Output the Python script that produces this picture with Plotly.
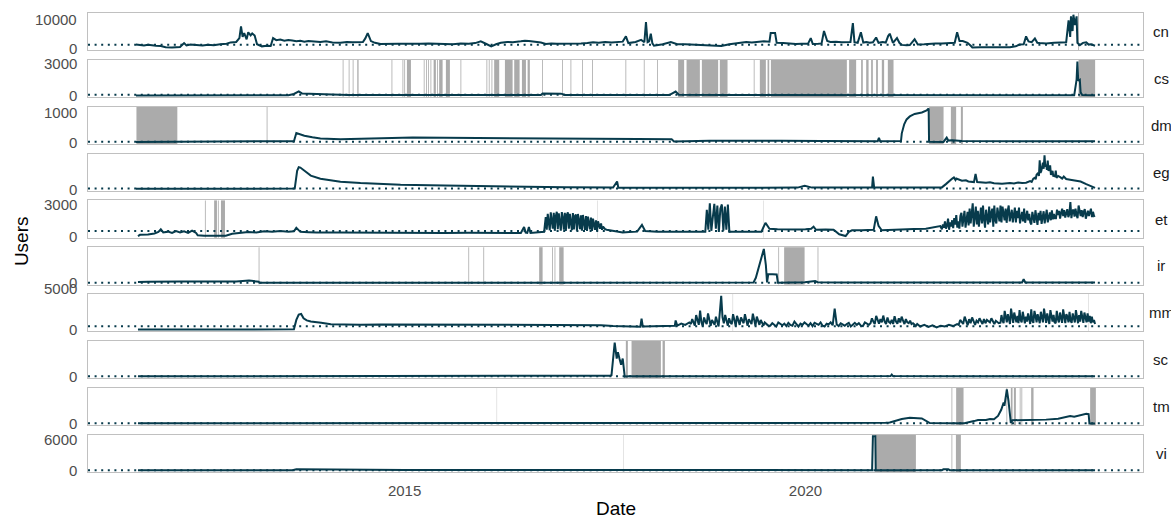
import numpy as np
import pandas as pd
import plotly.graph_objects as go

# ---------------- data (x in decimal years, y = users) ----------------
panels = ["cn", "cs", "dm", "eg", "et", "ir", "mm", "sc", "tm", "vi"]
y_breaks = {"cn": [0, 10000], "cs": [0, 3000], "dm": [0, 1000], "eg": [0], "et": [0, 3000],
            "ir": [0], "mm": [0, 5000], "sc": [0], "tm": [0], "vi": [0, 6000]}
ref_level = {"cn": 1360, "cs": 65, "dm": 20, "eg": 30, "et": 485, "ir": 5,
             "mm": 435, "sc": 10, "tm": 10, "vi": 10}
x_break_dates = ["2015-01-01", "2020-01-01"]
x_break_labels = ["2015", "2020"]

cn_points = [(2011.65,1450),(2011.70,1200),(2011.75,1100),(2011.80,1350),(2011.85,1300),(2011.90,1000),(2011.96,900),(2012.02,500),(2012.10,450),(2012.15,600),(2012.20,550),(2012.25,1900),(2012.28,1100),(2012.33,1400),(2012.40,1250),(2012.48,1100),(2012.55,1350),(2012.62,1200),(2012.70,1500),(2012.78,1700),(2012.83,2150),(2012.90,2300),(2012.94,3600),(2012.96,7600),(2012.98,4000),(2013.00,5300),(2013.03,3200),(2013.05,5600),(2013.08,4500),(2013.10,5200),(2013.13,4500),(2013.16,1500),(2013.22,800),(2013.28,1000),(2013.33,900),(2013.36,3600),(2013.40,2900),(2013.45,3100),(2013.50,2700),(2013.55,2950),(2013.60,2800),(2013.65,2500),(2013.70,2700),(2013.75,2400),(2013.80,2600),(2013.88,2350),(2013.95,2300),(2014.02,2500),(2014.10,2150),(2014.20,2000),(2014.28,2250),(2014.35,2200),(2014.42,2350),(2014.48,2300),(2014.51,3500),(2014.54,5300),(2014.58,2600),(2014.63,2000),(2014.70,1600),(2014.78,1700),(2014.85,1550),(2014.92,1650),(2015.00,1700),(2015.10,1600),(2015.20,1650),(2015.30,1800),(2015.40,1750),(2015.50,1600),(2015.60,1550),(2015.70,1800),(2015.80,1700),(2015.88,1900),(2015.95,2500),(2016.02,1600),(2016.08,800),(2016.14,1500),(2016.20,2000),(2016.28,2300),(2016.35,2200),(2016.45,2500),(2016.50,2700),(2016.55,2600),(2016.62,2400),(2016.70,2100),(2016.76,1600),(2016.83,1800),(2016.90,1700),(2017.00,1650),(2017.10,1600),(2017.20,1750),(2017.28,1900),(2017.35,2200),(2017.42,2000),(2017.50,2300),(2017.58,2100),(2017.65,2250),(2017.72,2400),(2017.76,4200),(2017.79,1900),(2017.88,2300),(2017.95,3000),(2017.99,2200),(2018.01,9070),(2018.03,2200),(2018.05,2500),(2018.07,5100),(2018.09,1800),(2018.11,1000),(2018.16,1200),(2018.22,1500),(2018.32,2300),(2018.36,1800),(2018.40,1500),(2018.50,1550),(2018.60,1400),(2018.70,1450),(2018.80,1300),(2018.88,1200),(2018.95,900),(2019.05,1500),(2019.15,1900),(2019.26,2250),(2019.33,2100),(2019.40,2300),(2019.48,2500),(2019.55,2400),(2019.565,5300),(2019.62,5300),(2019.64,2000),(2019.72,1900),(2019.80,1700),(2019.88,1600),(2019.95,1700),(2020.03,1650),(2020.065,3600),(2020.09,1600),(2020.16,1700),(2020.20,1800),(2020.23,6000),(2020.27,2600),(2020.31,2300),(2020.38,2400),(2020.45,2200),(2020.52,2100),(2020.56,2300),(2020.59,8700),(2020.61,2200),(2020.65,2000),(2020.69,5600),(2020.72,2100),(2020.76,2300),(2020.80,2000),(2020.84,2200),(2020.88,3800),(2020.91,2000),(2020.96,2300),(2021.00,2100),(2021.03,4300),(2021.05,5100),(2021.09,2000),(2021.14,3600),(2021.17,2000),(2021.20,1300),(2021.26,1200),(2021.30,1250),(2021.36,3200),(2021.40,1400),(2021.48,1500),(2021.55,1700),(2021.62,1800),(2021.70,1750),(2021.80,1800),(2021.86,2000),(2021.89,5600),(2021.92,2600),(2021.96,2600),(2022.02,2000),(2022.06,1000),(2022.08,400),(2022.18,500),(2022.30,450),(2022.42,550),(2022.55,500),(2022.62,800),(2022.67,1400),(2022.72,1500),(2022.75,4200),(2022.78,2500),(2022.82,2200),(2022.86,3500),(2022.89,2000),(2022.92,1900),(2023.00,1800),(2023.10,2000),(2023.18,2100),(2023.25,2200),(2023.28,9600),(2023.30,4000),(2023.31,11000),(2023.33,6000),(2023.34,11560),(2023.36,8000),(2023.38,11000),(2023.39,2000),(2023.42,1200),(2023.46,2000),(2023.50,2200),(2023.53,1400),(2023.56,1500),(2023.61,1000)]

cs_points = [(2011.65,10),(2012.5,15),(2013.0,20),(2013.55,20),(2013.62,150),(2013.66,300),(2013.68,400),(2013.72,200),(2013.80,170),(2014.0,120),(2014.3,60),(2015.0,40),(2016.5,40),(2016.70,60),(2016.72,190),(2016.85,200),(2016.95,180),(2017.0,60),(2017.5,40),(2018.3,50),(2018.38,380),(2018.42,80),(2019.0,50),(2020.5,30),(2022.0,25),(2023.35,20),(2023.38,1500),(2023.39,3215),(2023.40,1400),(2023.42,1500),(2023.43,300),(2023.45,60),(2023.61,30)]

dm_points = [(2011.65,15),(2012.2,20),(2012.8,25),(2013.3,30),(2013.62,40),(2013.65,310),(2013.70,260),(2013.75,220),(2013.85,170),(2013.95,130),(2014.2,100),(2014.5,120),(2014.8,150),(2015.1,160),(2015.5,150),(2015.9,140),(2016.5,135),(2017.0,130),(2017.5,125),(2017.9,115),(2018.33,105),(2018.36,30),(2018.8,55),(2019.3,65),(2019.7,55),(2020.2,45),(2020.6,50),(2020.90,40),(2020.915,150),(2020.93,40),(2021.19,45),(2021.20,300),(2021.23,600),(2021.26,760),(2021.30,860),(2021.36,940),(2021.45,990),(2021.51,1060),(2021.535,1125),(2021.54,20),(2021.72,15),(2021.73,60),(2021.76,160),(2021.78,60),(2021.83,70),(2021.95,45),(2022.5,40),(2023.0,40),(2023.61,35)]

eg_points = [(2011.65,20),(2012.5,20),(2013.0,25),(2013.63,30),(2013.66,900),(2013.68,1080),(2013.70,1060),(2013.72,1000),(2013.76,850),(2013.83,665),(2013.95,515),(2014.2,365),(2014.45,300),(2014.7,260),(2014.95,215),(2015.5,180),(2016.2,130),(2017.0,100),(2017.6,80),(2017.65,380),(2017.665,70),(2018.5,70),(2019.3,75),(2019.9,80),(2019.99,165),(2020.08,80),(2020.83,90),(2020.84,615),(2020.855,90),(2021.70,90),(2021.75,250),(2021.80,450),(2021.83,520),(2021.85,580),(2021.87,450),(2021.88,520),(2021.92,460),(2021.95,415),(2022.00,440),(2022.03,380),(2022.10,350),(2022.12,750),(2022.14,350),(2022.20,330),(2022.25,315),(2022.30,340),(2022.35,290),(2022.45,265),(2022.55,300),(2022.60,280),(2022.65,330),(2022.70,300),(2022.75,320),(2022.80,400),(2022.82,360),(2022.84,520),(2022.86,565),(2022.87,480),(2022.88,700),(2022.90,800),(2022.91,650),(2022.92,1415),(2022.93,800),(2022.94,900),(2022.95,1100),(2022.96,1300),(2022.97,1000),(2022.98,1665),(2022.99,1100),(2023.00,1200),(2023.01,950),(2023.02,1400),(2023.03,900),(2023.04,1000),(2023.05,1165),(2023.06,700),(2023.07,800),(2023.08,900),(2023.09,620),(2023.10,700),(2023.11,600),(2023.12,915),(2023.13,560),(2023.15,650),(2023.18,580),(2023.20,520),(2023.22,620),(2023.25,500),(2023.30,465),(2023.37,420),(2023.43,380),(2023.50,250),(2023.55,165),(2023.61,65)]

et_points = [(2011.675,0),(2011.70,120),(2011.80,150),(2011.88,250),(2011.93,400),(2011.96,650),(2011.99,350),(2012.05,420),(2012.10,300),(2012.15,480),(2012.20,350),(2012.25,450),(2012.30,300),(2012.35,520),(2012.40,300),(2012.42,80),(2012.50,20),(2012.70,0),(2012.77,30),(2012.85,220),(2012.95,300),(2013.05,380),(2013.15,350),(2013.25,450),(2013.35,400),(2013.45,480),(2013.55,420),(2013.62,450),(2013.65,775),(2013.70,400),(2013.80,360),(2013.9,330),(2014.2,340),(2014.5,320),(2014.8,310),(2015.0,320),(2015.3,330),(2015.5,300),(2015.8,310),(2016.0,320),(2016.25,330),(2016.45,300),(2016.49,870),(2016.51,330),(2016.53,300),(2016.55,850),(2016.57,300),(2016.66,320),(2016.74,400),(2017.52,600),(2017.58,520),(2017.65,420),(2017.72,350),(2017.80,380),(2017.90,420),(2017.96,1065),(2018.00,480),(2018.15,400),(2018.30,400),(2018.45,430),(2018.60,420),(2018.73,400),(2019.08,420),(2019.2,400),(2019.35,410),(2019.45,420),(2019.50,1260),(2019.55,700),(2019.65,650),(2019.8,600),(2019.92,620),(2020.0,650),(2020.07,700),(2020.10,900),(2020.13,600),(2020.25,620),(2020.35,600),(2020.42,165),(2020.50,0),(2020.54,400),(2020.58,550),(2020.70,560),(2020.85,600),(2020.88,1870),(2020.91,970),(2020.95,550),(2021.05,600),(2021.2,650),(2021.35,680),(2021.50,700),(2021.60,800),(2021.68,950)]
et_burst_a_span = (2016.76, 2017.50)
et_burst_a = [1800,600,2100,1200,550,2250,1500,700,2200,500,
              1900,2300,650,2150,1300,520,2280,1700,600,2200,
              480,2000,2250,700,2100,1400,550,2180,620,1900,
              2050,500,2100,1500,650,1980,520,2000,1200,600,
              1900,480,1850,1300,650,1750,500,1650,1100,600,
              1500,480,1400,900,700,1200,600,900,750,650]
et_burst_b_span = (2018.75, 2019.05)
et_burst_b = [400,2500,600,3100,500,1800,3050,700,2900,400,2600,3000,500,2800,600,3000,400]
et_burst_c_span = (2021.70, 2023.61)
et_burst_c = [650,1100,800,1400,700,1000,1650,600,1300,900,1500,750,1700,1100,2000,800,1400,700,1900,
              2200,900,1600,2400,800,1900,2300,1000,2600,1200,2100,3100,900,1800,
              2800,1100,2400,900,2000,2700,1200,2900,1600,800,2500,1900,1100,2800,1300,2200,2600,900,2900,1500,1200,2700,2000,1400,2900,
              1300,2800,2100,1500,2600,1260,2400,2900,1400,2000,2500,1300,1900,2700,
              1300,2400,1700,2700,1200,2000,2300,1400,2600,1260,1900,2400,1500,2100,1300,
              1100,2300,1600,1250,2450,1900,1070,2200,1500,2400,1150,1800,2350,1200,2000,2500,1300,1700,2250,1500,2450,1600,2100,1700,
              1700,2500,2000,2400,1650,2200,2600,1900,2450,1750,2300,2550,1800,2100,3225,1700,2400,2500,1850,2600,2000,1700,2900,2200,1900,2450,1800,2300,2550,1650,2100,2400,1900,2200,2600,1800,2300,1900,1950]

ir_points = [(2011.675,35),(2011.8,50),(2012.2,55),(2012.6,50),(2012.9,60),(2013.06,90),(2013.12,60),(2013.18,50),(2013.19,5),(2014.0,5),(2015.0,8),(2016.0,8),(2017.0,10),(2018.0,10),(2019.0,10),(2019.35,12),(2019.38,200),(2019.44,825),(2019.48,1330),(2019.505,700),(2019.52,20),(2019.535,345),(2019.57,345),(2019.64,330),(2019.655,10),(2019.99,25),(2020.12,75),(2020.15,30),(2020.4,15),(2021.5,15),(2022.70,15),(2022.72,145),(2022.74,20),(2023.61,15)]

mm_points = [(2011.675,30),(2012.5,40),(2013.0,40),(2013.62,50),(2013.65,1200),(2013.68,1850),(2013.71,1935),(2013.74,1400),(2013.78,1150),(2013.83,1000),(2013.96,850),(2014.08,680),(2014.25,640),(2014.45,600),(2014.7,650),(2014.95,640),(2015.2,610),(2015.5,620),(2015.8,660),(2016.0,650),(2016.3,620),(2016.5,640),(2016.8,600),(2017.0,620),(2017.2,600),(2017.45,560),(2017.6,450),(2017.7,420),(2017.85,400),(2017.94,380),(2017.955,1370),(2017.97,400),(2018.1,420),(2018.2,450),(2018.30,500),(2018.37,500),(2018.38,1130),(2018.40,500),(2018.45,760),(2018.50,600),(2018.55,900)]
mm_seg1_span = (2018.57, 2019.54)
mm_seg1 = [700,1300,900,500,1800,1100,600,2335,900,450,
           1500,1000,700,2000,1300,500,1200,800,600,1600,
           1000,400,2200,4150,1500,800,1800,1100,500,1400,
           900,700,1900,1200,450,1700,1000,600,1500,1100,
           800,1900,1300,500,1300,900,700,1970,1100,500,
           1600,1000,600,1200,800,500,900,700,600,500]
mm_seg2_span = (2019.56, 2020.79)
mm_seg2 = [500,800,650,400,900,700,550,750,450,850,
           600,500,1000,700,400,750,600,900,650,500,
           800,450,850,700,600,900,500,400,750,650,
           900,550,2580,650,450,800,600,500,700,850,
           400,650,850,600,800,500,450,900,700,600]
mm_seg3_span = (2020.81, 2021.41)
mm_seg3 = [800,1400,1000,700,1700,1100,750,1300,900,1730,
           1000,700,1500,950,800,1200,700,1650,1000,750,
           1400,900,1600,1100,700,1300,900,800,1100,700,
           800,650,450,700,500]
mm_seg4_span = (2021.43, 2021.89)
mm_seg4 = [400,600,350,550,300,500,400,600,450,700]
mm_seg5_span = (2021.91, 2022.41)
mm_seg5 = [600,1200,900,700,1600,1000,550,1300,800,1500,1100,600,1100,900,1400,1000,700,1300,800,1200,1000,900,1400,1100,700,1100,900,800]
mm_seg6_span = (2022.43, 2023.61)
mm_seg6 = [850,1800,1100,800,2300,1400,900,1900,1000,700,
           2580,1300,850,2100,1600,900,1700,800,2400,1200,
           900,2200,1500,800,1600,1000,2000,1300,700,2500,
           1100,850,2300,1700,900,1900,1200,800,2200,1400,
           900,2580,1600,850,2000,1000,700,2400,1500,1000,
           1800,900,800,2300,1300,900,2100,1400,850,2500,
           1200,800,1900,1600,900,2200,1100,850,2000,1300,
           900,2400,1500,800,1800,1000,2300,1200,850,2100,
           1400,900,2000,1000,1700,800,1600,900,1200,700]

sc_points = [(2011.675,10),(2013.0,10),(2015.0,12),(2017.0,15),(2017.52,20),(2017.56,30),(2017.58,45),(2017.60,710),(2017.62,1145),(2017.645,610),(2017.66,820),(2017.68,600),(2017.70,400),(2017.72,610),(2017.745,0),(2017.8,10),(2018.5,12),(2019.5,12),(2020.5,15),(2021.06,20),(2021.075,70),(2021.09,20),(2022.0,15),(2023.61,15)]

tm_points = [(2011.675,5),(2014.0,5),(2016.0,5),(2016.05,3),(2018.0,5),(2020.0,8),(2020.8,10),(2021.0,20),(2021.05,30),(2021.15,110),(2021.20,150),(2021.30,190),(2021.35,195),(2021.40,180),(2021.45,170),(2021.50,80),(2021.55,15),(2021.82,10),(2021.98,10),(2022.10,80),(2022.15,115),(2022.25,115),(2022.30,150),(2022.35,140),(2022.40,255),(2022.44,465),(2022.47,710),(2022.48,600),(2022.50,920),(2022.51,1155),(2022.53,780),(2022.55,200),(2022.56,15),(2022.58,110),(2022.70,115),(2022.90,125),(2023.0,130),(2023.15,160),(2023.25,220),(2023.30,250),(2023.35,230),(2023.40,260),(2023.45,300),(2023.50,330),(2023.53,320),(2023.54,0),(2023.61,0)]

vi_points = [(2011.675,20),(2012.5,25),(2013.6,30),(2013.65,200),(2013.8,180),(2013.96,100),(2014.5,80),(2015.0,60),(2016.0,50),(2017.0,40),(2018.0,35),(2019.0,30),(2020.0,30),(2020.83,30),(2020.84,6730),(2020.87,6730),(2020.875,30),(2021.2,20),(2021.70,20),(2021.72,200),(2021.78,200),(2021.80,30),(2022.5,20),(2023.61,20)]

# missing-data periods (start, end) in decimal years
gaps = {
    "cn": [(2023.398, 2023.408)],
    "cs": [(2014.228,2014.238),(2014.303,2014.313),(2014.353,2014.363),(2014.410,2014.426),(2014.837,2014.847),(2014.974,2014.984),(2014.996,2015.006),(2015.029,2015.079),(2015.239,2015.249),(2015.269,2015.279),(2015.294,2015.304),(2015.323,2015.333),(2015.362,2015.390),(2015.406,2015.416),(2015.431,2015.474),(2015.515,2015.565),(2015.697,2015.707),(2016.021,2016.031),(2016.050,2016.060),(2016.084,2016.094),(2016.117,2016.180),(2016.251,2016.347),(2016.367,2016.434),(2016.463,2016.513),(2016.534,2016.562),(2016.716,2016.726),(2016.965,2016.975),(2017.069,2017.079),(2017.214,2017.224),(2017.339,2017.349),(2017.754,2017.764),(2017.983,2017.993),(2018.150,2018.160),(2018.411,2018.486),(2018.516,2018.682),(2018.707,2018.910),(2018.931,2019.027),(2019.354,2019.364),(2019.430,2019.505),(2019.526,2019.547),(2019.568,2020.515),(2020.543,2020.631),(2020.693,2020.714),(2020.756,2020.786),(2020.818,2020.839),(2020.880,2020.902),(2020.951,2020.980),(2021.026,2021.097),(2023.404,2023.611)],
    "dm": [(2011.656,2012.166),(2013.280,2013.290),(2021.541,2021.721),(2021.812,2021.878),(2021.937,2021.962)],
    "eg": [],
    "et": [(2012.510,2012.520),(2012.625,2012.660),(2012.672,2012.682),(2012.710,2012.760),(2017.400,2017.404),(2019.478,2019.482)],
    "ir": [(2013.180,2013.190),(2015.795,2015.805),(2015.982,2015.992),(2016.678,2016.721),(2016.840,2016.850),(2016.870,2016.880),(2016.928,2016.983),(2019.660,2019.670),(2019.733,2019.988),(2020.150,2020.160)],
    "mm": [(2019.092,2019.096),(2023.528,2023.532)],
    "sc": [(2017.759,2017.784),(2017.830,2018.196),(2018.217,2018.246)],
    "tm": [(2016.149,2016.153),(2021.820,2021.830),(2021.878,2021.970),(2022.505,2022.515),(2022.560,2022.581),(2022.598,2022.623),(2022.671,2022.681),(2022.692,2022.702),(2022.813,2022.843),(2023.549,2023.620)],
    "vi": [(2017.724,2017.728),(2020.868,2021.376),(2021.820,2021.830),(2021.875,2021.937)],
}

# ---------------- assemble ----------------
def assemble(points, bursts=()):
    xs = [p[0] for p in points]
    ys = [p[1] for p in points]
    for (a, b), vals in bursts:
        xs += list(np.linspace(a, b, len(vals)))
        ys += list(vals)
    order = np.argsort(xs, kind="stable")
    return [xs[i] for i in order], [ys[i] for i in order]

def to_date(yrs):
    base = pd.Timestamp("2015-01-01")
    return [base + pd.Timedelta(days=float(y - 2015) * 365.25) for y in yrs]

series = {
    "cn": assemble(cn_points),
    "cs": assemble(cs_points),
    "dm": assemble(dm_points),
    "eg": assemble(eg_points),
    "et": assemble(et_points, [(et_burst_a_span, et_burst_a), (et_burst_b_span, et_burst_b),
                               (et_burst_c_span, et_burst_c)]),
    "ir": assemble(ir_points),
    "mm": assemble(mm_points, [(mm_seg1_span, mm_seg1), (mm_seg2_span, mm_seg2), (mm_seg3_span, mm_seg3),
                               (mm_seg4_span, mm_seg4), (mm_seg5_span, mm_seg5), (mm_seg6_span, mm_seg6)]),
    "sc": assemble(sc_points),
    "tm": assemble(tm_points),
    "vi": assemble(vi_points),
}

# ---------------- styling / layout ----------------
LINE = "#073B4C"
GAP = "#ababab"
BORDER = "#c0c0c0"
FONT = "Liberation Sans, Arial, sans-serif"
W, H = 1171, 518
ML, MR, MT, MB = 88, 28, 13, 46
plot_h = H - MT - MB
plot_w = W - ML - MR
panel_h = 37.4
pitch = (plot_h - panel_h) / 9

all_x = [x for s in series.values() for x in s[0]]
xmin, xmax = min(all_x), max(all_x)
xpad = 0.05 * (xmax - xmin)
xrange_dates = to_date([xmin - xpad, xmax + xpad])

def ax_id(letter, k):
    return letter if k == 1 else f"{letter}{k}"

fig = go.Figure()
layout = dict(width=W, height=H, margin=dict(l=ML, r=MR, t=MT, b=MB),
              paper_bgcolor="white", plot_bgcolor="white", showlegend=False,
              font=dict(family=FONT, size=15, color="#4d4d4d"))
shapes, annotations = [], []

for i, name in enumerate(panels):
    k = i + 1
    xid, yid = ax_id("x", k), ax_id("y", k)
    xs, ys = series[name]
    top = min(1.0, 1 - i * pitch / plot_h)
    bot = max(0.0, top - panel_h / plot_h)
    if i == len(panels) - 1:
        bot = 0.0
    top = round(top, 6); bot = round(bot, 6)
    hi = max(ys); lo = 0.0
    pad = 0.05 * (hi - lo)
    yr = [lo - pad, hi + pad]

    fig.add_trace(go.Scatter(x=to_date(xs), y=ys, mode="lines",
                             line=dict(color=LINE, width=2.0),
                             xaxis=xid, yaxis=yid, hoverinfo="skip"))

    xa = dict(domain=[0, 1], anchor=yid, range=xrange_dates, type="date",
              showgrid=False, zeroline=False, showline=True, mirror=True,
              linecolor=BORDER, linewidth=1.3, ticks="",
              showticklabels=(k == len(panels)))
    if k > 1:
        xa["matches"] = "x"
    if k == len(panels):
        xa.update(tickvals=x_break_dates, ticktext=x_break_labels,
                  tickfont=dict(size=15, color="#4d4d4d"), ticklabelstandoff=5)
    ya = dict(domain=[bot, top], anchor=xid, range=yr, showgrid=False,
              zeroline=False, showline=True, mirror=True, linecolor=BORDER,
              linewidth=1.3, ticks="", showticklabels=False)
    layout["xaxis" if k == 1 else f"xaxis{k}"] = xa
    layout["yaxis" if k == 1 else f"yaxis{k}"] = ya

    for (a, b) in gaps[name]:
        d0, d1 = to_date([a, b])
        shapes.append(dict(type="rect", xref=xid, yref=f"{yid} domain",
                           x0=d0, x1=d1, y0=0, y1=1, fillcolor=GAP,
                           line=dict(width=0), layer="below"))
    shapes.append(dict(type="line", xref=f"{xid} domain", yref=yid, x0=0, x1=1,
                       y0=ref_level[name], y1=ref_level[name],
                       line=dict(color=LINE, width=2, dash="2px,4.6px"), layer="above"))

    for v in y_breaks[name]:
        py = bot + (v - yr[0]) / (yr[1] - yr[0]) * (top - bot)
        annotations.append(dict(text=f"{v}", xref="paper", yref="paper", x=-9 / plot_w, y=py,
                                xanchor="right", yanchor="middle", showarrow=False,
                                font=dict(size=15, color="#4d4d4d", family=FONT)))
    annotations.append(dict(text=name, xref="paper", yref="paper", x=(1161 - ML) / plot_w,
                            y=(top + bot) / 2, xanchor="center", yanchor="middle",
                            showarrow=False, font=dict(size=15, color="#1a1a1a", family=FONT)))

annotations.append(dict(text="Users", xref="paper", yref="paper", x=(21 - ML) / plot_w, y=0.503,
                        textangle=-90, xanchor="center", yanchor="middle", showarrow=False,
                        font=dict(size=19, color="black", family=FONT)))
annotations.append(dict(text="Date", xref="paper", yref="paper", x=0.5, y=-(508 - (H - MB)) / plot_h,
                        xanchor="center", yanchor="middle", showarrow=False,
                        font=dict(size=19, color="black", family=FONT)))

layout["shapes"] = shapes
layout["annotations"] = annotations
fig.update_layout(**layout)
fig.write_html("out.html", config={"displayModeBar": False},
               post_script="document.body.style.margin='0';document.body.style.overflow='hidden';")
